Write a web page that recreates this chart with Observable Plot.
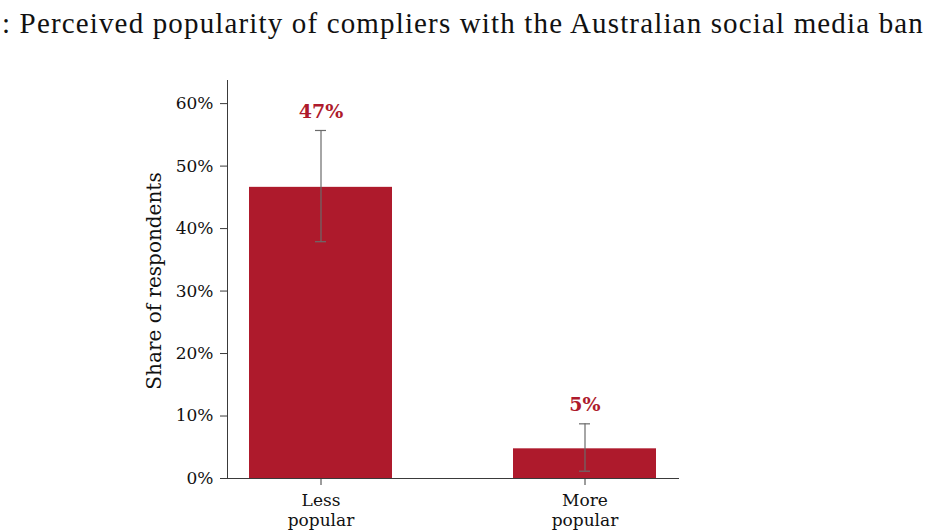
<!DOCTYPE html>
<html><head><meta charset="utf-8">
<script src="https://cdn.jsdelivr.net/npm/d3@7"></script>
<script src="https://cdn.jsdelivr.net/npm/@observablehq/plot@0.6"></script>
<style>
body{margin:0;background:#fff;}
#title{font-family:"Liberation Serif","DejaVu Serif",serif;font-size:29px;color:#111;height:46px;line-height:46px;white-space:nowrap;padding-left:2px;letter-spacing:1.15px;}
</style></head>
<body>
<div id="title">: Perceived popularity of compliers with the Australian social media ban</div>
<div id="chart"></div>
<script>
const categories = ["Less\npopular", "More\npopular"];
const shares = [0.466, 0.0475];
const lower = [0.379, 0.0117];
const upper = [0.557, 0.0875];
const labels = ["47%", "5%"];
const yTicks = [0, 0.1, 0.2, 0.3, 0.4, 0.5, 0.6];

const data = categories.map((c, i) => ({cat: c, v: shares[i], lo: lower[i], hi: upper[i], lab: labels[i]}));
const red = "#ae1a2c";
const axisColor = "#3a3a3a";
const errColor = "#6b6b6b";

const chart = Plot.plot({
  width: 928,
  height: 486,
  marginLeft: 227,
  marginRight: 250,
  marginTop: 34,
  marginBottom: 54,
  style: {fontFamily: "'DejaVu Serif', serif", fontSize: "17px", color: "#111", background: "#fff"},
  x: {domain: categories, paddingInner: 0.46, paddingOuter: 0.081, label: null},
  y: {domain: [0, 0.637], label: null},
  marks: [
    Plot.barY(data, {x: "cat", y: "v", fill: red}),
    Plot.ruleX(data, {x: "cat", y1: "lo", y2: "hi", stroke: errColor, strokeWidth: 1.2}),
    Plot.tickY(data, {x: "cat", y: "hi", stroke: errColor, strokeWidth: 1.2, inset: 66}),
    Plot.tickY(data, {x: "cat", y: "lo", stroke: errColor, strokeWidth: 1.2, inset: 66}),
    Plot.text(data, {x: "cat", y: "hi", text: "lab", dy: -19, fill: red, fontWeight: "bold", fontSize: 19}),
    Plot.axisY({ticks: yTicks, tickFormat: d => Math.round(d * 100) + "%", tickSize: 7, tickPadding: 7, stroke: axisColor, label: null, fontSize: 17}),
    Plot.axisX({tickSize: 7, tickPadding: 6, stroke: axisColor, label: null, fontSize: 17, lineHeight: 1.2}),
    Plot.frame({anchor: "left", stroke: axisColor}),
    Plot.frame({anchor: "bottom", stroke: axisColor})
  ]
});
document.getElementById("chart").appendChild(chart);

// y axis title
const svg = d3.select(chart);
svg.append("text")
  .attr("transform", "translate(155,235) rotate(-90)")
  .attr("text-anchor", "middle")
  .attr("dominant-baseline", "middle")
  .attr("font-family", "'DejaVu Serif', serif")
  .attr("font-size", 20)
  .attr("fill", "#111")
  .text("Share of respondents");
</script>
</body></html>
